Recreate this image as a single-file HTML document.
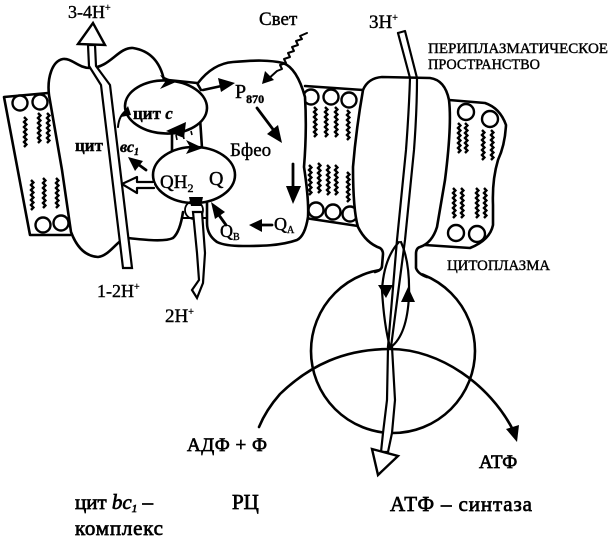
<!DOCTYPE html>
<html><head><meta charset="utf-8"><style>
html,body{margin:0;padding:0;background:#fff}
svg{display:block}
text{font-family:"Liberation Serif","Noto Serif CJK SC",serif;fill:#000;stroke:#000;stroke-width:.4}
.b{stroke-width:.7}
.l{fill:none;stroke:#000;stroke-width:2.6;stroke-linejoin:round;stroke-linecap:round}
.t{fill:none;stroke:#000;stroke-width:2.4}
.w{fill:#fff;stroke:#000;stroke-width:2.4}
.a{fill:#000;stroke:none}
</style></head><body>
<svg width="611" height="539" viewBox="0 0 611 539" xmlns="http://www.w3.org/2000/svg">
<defs>
<path id="z" class="t" d="M0 0l2.4 2.5-2.4 2.5 2.4 2.5-2.4 2.5 2.4 2.5-2.4 2.5 2.4 2.5-2.4 2.5 2.4 2.5-2.4 2.5 2.4 2.5-2.4 2.5"/>
</defs>
<rect width="611" height="539" fill="#fff"/>
<!-- membranes -->
<path class="l" d="M48 93L4 97L30 235L70 235"/>
<path class="l" d="M305 86L363 90M305 218L358 226"/>
<path class="l" d="M449 100L485 103Q500 108 506 125Q505 145 498 160Q492 180 493 205L493 225Q490 240 470 248L425 245"/>
<g class="w">
<circle cx="20" cy="103" r="7.5"/><circle cx="40" cy="102" r="7.5"/>
<circle cx="43" cy="225" r="7.5"/><circle cx="61" cy="223" r="7.5"/>
<circle cx="311" cy="97" r="7.5"/><circle cx="331" cy="97" r="7.5"/><circle cx="349" cy="100" r="7.5"/>
<circle cx="316" cy="210" r="7.5"/><circle cx="333" cy="212" r="7.5"/><circle cx="350" cy="214" r="7.5"/>
<circle cx="466" cy="112" r="8"/><circle cx="490" cy="119" r="8"/>
<circle cx="456" cy="233" r="8"/><circle cx="477" cy="234" r="8"/>
</g>
<use href="#z" x="24" y="117"/><use href="#z" x="38" y="113"/><use href="#z" x="47" y="113"/>
<use href="#z" x="31" y="180"/><use href="#z" x="43" y="178"/><use href="#z" x="56" y="178"/>
<use href="#z" x="314" y="107"/><use href="#z" x="325" y="107"/><use href="#z" x="335" y="107"/><use href="#z" x="347" y="110"/>
<use href="#z" x="309" y="165"/><use href="#z" x="318" y="163"/><use href="#z" x="327" y="165"/><use href="#z" x="335" y="165"/><use href="#z" x="347" y="172"/>
<use href="#z" x="458" y="123"/><use href="#z" x="465" y="123"/><use href="#z" x="482" y="130"/><use href="#z" x="491" y="130"/>
<use href="#z" x="453" y="188"/><use href="#z" x="461" y="188"/><use href="#z" x="476" y="188"/><use href="#z" x="484" y="188"/>
<!-- bc1 complex -->
<path d="M162 78Q156 52 133 48C118 47 110 68 90 68C78 68 72 58 63 59C52 61 47 78 49 95L62 170L71 232Q80 256 98 257C110 256 118 238 128 238C145 240 165 242 173 238Q180 232 183 207L183 80Z" fill="#fff" stroke="none"/>
<path class="l" d="M164 80Q158 52 133 48C118 47 110 68 90 68C78 68 72 58 63 59C52 61 47 78 49 95L62 170L71 232Q80 256 98 257C110 256 118 238 128 238C145 240 165 242 173 238Q180 232 183 212"/>
<!-- RC -->
<path d="M198 83C208 70 220 63 233 63L283 63Q297 66 305 97L305 167Q309 200 308 217Q305 236 297 240C280 246 260 246 243 246Q222 246 217 242Q207 235 207 223L207 203Z" fill="#fff" stroke="none"/>
<path class="l" d="M198 83C208 70 220 63 233 62C255 60 270 60 283 63Q297 68 305 97Q307 130 304 167Q309 200 308 217Q305 236 297 240C280 246 260 246 243 246Q225 246 217 242Q207 235 207 223L207 203"/>
<path class="l" d="M168 80L197 83L201 90M172 133L172 152M200 118L202 148"/>
<!-- ATP synthase -->
<circle cx="393" cy="351" r="82" class="w" style="stroke-width:2.6"/>
<path d="M363 90Q370 78 385 77L428 77Q445 80 449 100Q452 125 445 180L438 225Q434 243 418 248L417 268L430 282L360 282L382 268L382 250Q366 243 358 227Q350 180 353 140Z" fill="#fff" stroke="none"/>
<path class="l" d="M363 90Q368 78 382 77L430 78Q445 80 449 100Q452 125 445 180L437 227Q432 243 420 247Q416 248 416 254L416 268Q418 274 427 277M363 90Q356 130 353 167Q353 210 358 227Q366 243 380 248Q383 250 383 254L382 266Q382 270 375 272"/>
<!-- bc1 channel -->
<path class="w" d="M88 45L89 66L101 85L123 268H132L110 85L96 66L95 45Z" style="stroke-width:2.2"/>
<path class="w" d="M78 44L93 23L105 45Z"/>
<!-- ovals -->
<ellipse cx="166" cy="107" rx="41" ry="26.5" class="w" style="stroke-width:2.6" transform="rotate(2 166 107)"/>
<ellipse cx="194" cy="175" rx="41" ry="28" class="w" style="stroke-width:2.6"/>
<!-- lower RC connection -->
<path class="l" d="M183 218H207" style="stroke-width:2"/>
<circle cx="194" cy="210" r="9" class="t" style="stroke-width:1.8"/>
<path class="w" d="M193 212L197 253L199 280L192 290L197 298L203 283L205 253L202 212Z" style="stroke-width:2.2"/>
<path class="a" d="M189 197h14l-2 9h-10z"/>
<!-- arrows left complex -->
<path class="l" d="M154 182H137V177L122 184L137 193V188H154" style="stroke-width:2.2;fill:#fff"/>
<path class="l" d="M146 170L135 162" style="stroke-width:2.8"/>
<path class="a" d="M128 157L143 161L135 171Z"/>
<path class="l" d="M118 127Q119 115 127 110" style="stroke-width:2"/>
<path class="a" d="M128 106L121 117L131 115Z"/>
<path class="a" d="M160 75L176 82L160 89L165 82Z"/>
<path class="a" d="M166 131L186 122L184 138Z"/>
<path class="a" d="M186 140L203 148L186 154L190 147Z"/>
<path d="M176 135l1 5M183 134l1 5M191 131l1 4" class="t" style="stroke-width:1.6"/>
<!-- RC arrows -->
<path class="l" d="M203 90L226 85" style="stroke-width:2.6"/>
<path class="a" d="M235 83L218 78L221 92Z"/>
<path class="l" d="M257 108L275 132" style="stroke-width:2.8"/>
<path class="a" d="M282 143L267 134L278 125Z"/>
<path class="l" d="M293 164V192" style="stroke-width:2.8"/>
<path class="a" d="M293 204L286 186H301Z"/>
<path class="l" d="M272 225H257" style="stroke-width:2.8"/>
<path class="a" d="M249 225L262 219V232Z"/>
<path class="l" d="M226 225L216 211" style="stroke-width:2.8"/>
<path class="a" d="M211 202L225 212L215 219Z"/>
<path class="l" d="M307 33L300 36L302 39L296 41L298 45L292 47L294 51L288 53L290 57L284 59L286 63L280 65L282 69L277 71L266 81" style="stroke-width:2"/>
<path class="a" d="M262 84L265 71L274 80Z"/>
<!-- ATP channel -->
<path class="l" d="M398 33L405 31L417 78Q417 110 414 150L405 240L391 347" style="stroke-width:2.2"/>
<path class="l" d="M398 33L410 78Q409 110 406 150L397 240L388 347" style="stroke-width:2.2"/>
<path class="l" d="M399 242Q384 258 382 290Q384 325 390 347M401 242Q410 262 409 296Q407 335 391 347" style="stroke-width:2.2"/>
<path class="a" d="M386 298L378 285H393Z"/>
<path class="a" d="M408 287L401 302H415Z"/>
<path class="w" d="M388 347L387 400L383 433L381 452H388L392 433L395 400L392 347Z" style="stroke-width:2.2"/>
<path class="w" d="M372 449L398 456L378 475Z"/>
<!-- substrate arc -->
<path class="l" d="M259 427Q266 410 280 394C310 365 345 349 390 349C440 349 490 385 513 430"/>
<path class="a" d="M517 442L506 429L519 425Z"/>
<!-- text -->
<text x="68" y="18" font-size="18">3-4H<tspan font-size="10" dy="-7">+</tspan></text>
<text x="259" y="25" font-size="19">Свет</text>
<text x="369" y="28" font-size="19">3H<tspan font-size="10" dy="-7">+</tspan></text>
<text x="428" y="53" font-size="15" textLength="180" lengthAdjust="spacingAndGlyphs">ПЕРИПЛАЗМАТИЧЕСКОЕ</text>
<text x="428" y="69" font-size="15" textLength="112" lengthAdjust="spacingAndGlyphs">ПРОСТРАНСТВО</text>
<text x="447" y="270" font-size="15" textLength="103" lengthAdjust="spacingAndGlyphs">ЦИТОПЛАЗМА</text>
<text x="133" y="119" font-size="17" font-weight="bold">цит <tspan font-style="italic">с</tspan></text>
<text x="75" y="151" font-size="17" font-weight="bold">цит</text>
<text x="120" y="152" font-size="16" font-weight="bold" font-style="italic">вс<tspan font-size="10" dy="3">1</tspan></text>
<text x="235" y="98" font-size="20">P<tspan font-size="12" dy="5" font-weight="bold">870</tspan></text>
<text x="230" y="156" font-size="19">Бфео</text>
<text x="160" y="188" font-size="19">QH<tspan font-size="12" dy="4">2</tspan></text>
<text x="209" y="185" font-size="20">Q</text>
<text x="220" y="237" font-size="18">Q<tspan font-size="10" dy="3">B</tspan></text>
<text x="274" y="230" font-size="18">Q<tspan font-size="10" dy="3">A</tspan></text>
<text x="97" y="297" font-size="18">1-2H<tspan font-size="10" dy="-7">+</tspan></text>
<text x="165" y="322" font-size="19">2H<tspan font-size="10" dy="-7">+</tspan></text>
<text x="187" y="451" font-size="19" class="b" textLength="80">АДФ + Ф</text>
<text x="479" y="468" font-size="19" class="b">АТФ</text>
<text x="75" y="509" font-size="21" class="b">цит <tspan font-style="italic">bc</tspan><tspan font-size="11" dy="3" font-style="italic">1</tspan><tspan dy="-3"> –</tspan></text>
<text x="75" y="535" font-size="21" class="b" textLength="88">комплекс</text>
<text x="232" y="509" font-size="21" class="b">РЦ</text>
<text x="390" y="511" font-size="21" class="b" textLength="142">АТФ – синтаза</text>
</svg>
</body></html>
